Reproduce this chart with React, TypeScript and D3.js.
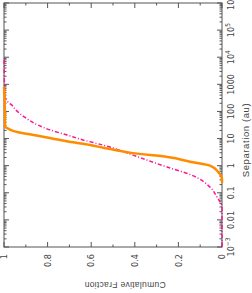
import React from 'react';
import { scaleLinear, scaleLog, line, curveMonotoneY, range } from 'd3';

// observed sample (orange): separation in au vs cumulative fraction
const obsSep = [0.23, 0.3, 0.59, 1.0, 1.36, 2.1, 2.9, 3.8, 4.5, 5.8, 7.6, 10.5, 13.5, 17, 20, 24.5, 27, 300, 800];
const obsFrac = [0, 0, 0.018, 0.055, 0.14, 0.25, 0.41, 0.49, 0.54, 0.605, 0.7, 0.79, 0.865, 0.935, 0.965, 0.986, 0.995, 0.997, 1.0];

// model distribution (magenta dash-dot)
const modelSep = [0.001, 0.03, 0.069, 0.162, 0.45, 0.89, 2.45, 4.5, 5.75, 8.9, 13.5, 20.9, 31.6, 57.5, 112, 174, 224, 339, 9330];
const modelFrac = [0, 0, 0.023, 0.055, 0.14, 0.252, 0.408, 0.5, 0.546, 0.638, 0.711, 0.789, 0.845, 0.9, 0.945, 0.965, 0.982, 0.995, 1.0];

const fracTicks = [0, 0.2, 0.4, 0.6, 0.8, 1];
const fracLabels = ['0', '0.2', '0.4', '0.6', '0.8', '1'];
const sepExp = [-3, -2, -1, 0, 1, 2, 3, 4, 5, 6];
const sepLabels = [['10', '-3'], ['0.01', ''], ['0.1', ''], ['1', ''], ['10', ''], ['100', ''], ['1000', ''], ['10', '4'], ['10', '5'], ['10', '6']];

const App = () => {
    const width = 252, height = 293;
    const left = 4, right = 222, top = 3, bottom = 247;
    const axisCol = '#555';
    const textCol = '#444';
    const font = "'Liberation Sans Narrow', 'DejaVu Sans Condensed', 'Liberation Sans', sans-serif";

    // plot is drawn turned on its side: fraction runs right-to-left, separation bottom-to-top
    const x = scaleLinear().domain([0, 1]).range([right, left]);
    const y = scaleLog().domain([1e-3, 1e6]).range([bottom, top]);

    const path = line<[number, number]>()
        .x(d => x(d[1]))
        .y(d => y(d[0]))
        .curve(curveMonotoneY);

    const obs = obsSep.map((s, i) => [s, obsFrac[i]] as [number, number]);
    const model = modelSep.map((s, i) => [s, modelFrac[i]] as [number, number]);

    const minorSep: number[] = [];
    sepExp.slice(0, -1).forEach(e => range(2, 10).forEach(m => minorSep.push(m * Math.pow(10, e))));
    const minorFrac = [0.1, 0.3, 0.5, 0.7, 0.9];

    return (
        <svg width={width} height={height} style={{ position: 'absolute', left: 0, top: 0 }}>
            <rect x={0} y={0} width={width} height={height} fill="#fff" />
            <rect x={left} y={top} width={right - left} height={bottom - top} fill="none" stroke={axisCol} strokeWidth={1} />
            {sepExp.map(e => (
                <g key={'sM' + e}>
                    <line x1={right} x2={right - 5} y1={y(Math.pow(10, e))} y2={y(Math.pow(10, e))} stroke={axisCol} />
                    <line x1={left} x2={left + 5} y1={y(Math.pow(10, e))} y2={y(Math.pow(10, e))} stroke={axisCol} />
                </g>
            ))}
            {minorSep.map((v, i) => (
                <g key={'sm' + i}>
                    <line x1={right} x2={right - 2.5} y1={y(v)} y2={y(v)} stroke={axisCol} />
                    <line x1={left} x2={left + 2.5} y1={y(v)} y2={y(v)} stroke={axisCol} />
                </g>
            ))}
            {fracTicks.map(f => (
                <g key={'fM' + f}>
                    <line x1={x(f)} x2={x(f)} y1={bottom} y2={bottom - 5} stroke={axisCol} />
                    <line x1={x(f)} x2={x(f)} y1={top} y2={top + 5} stroke={axisCol} />
                </g>
            ))}
            {minorFrac.map(f => (
                <g key={'fm' + f}>
                    <line x1={x(f)} x2={x(f)} y1={bottom} y2={bottom - 2.5} stroke={axisCol} />
                    <line x1={x(f)} x2={x(f)} y1={top} y2={top + 2.5} stroke={axisCol} />
                </g>
            ))}
            {fracTicks.map((f, i) => (
                <text key={'fl' + f} transform={`translate(${x(f)},254) rotate(-90)`} textAnchor="end" dy="0.35em"
                    fontSize={9} fontFamily={font} fill={textCol}>{fracLabels[i]}</text>
            ))}
            {sepExp.map((e, i) => (
                <text key={'sl' + e} transform={`translate(234,${y(Math.pow(10, e))}) rotate(-90)`} textAnchor="middle"
                    fontSize={9} fontFamily={font} fill={textCol}>
                    {sepLabels[i][0]}
                    {sepLabels[i][1] && <tspan fontSize={6.5} dy="-4">{sepLabels[i][1].replace('-', '\u2212')}</tspan>}
                </text>
            ))}
            <text transform="translate(249,140) rotate(-90)" textAnchor="middle" fontSize={9.5} fontFamily="'Liberation Sans', sans-serif"
                fill={textCol} letterSpacing={0.6}>Separation (au)</text>
            <text transform="translate(125,282) rotate(180)" textAnchor="middle" fontSize={8.5} fontFamily="'Liberation Sans', sans-serif"
                fill={textCol} letterSpacing={0.3}>Cumulative Fraction</text>
            <path d={path(model) ?? ''} fill="none" stroke="#ff1493" strokeWidth={1.5} strokeDasharray="4,2,1,2" />
            <path d={path(obs) ?? ''} fill="none" stroke="#ff8c00" strokeWidth={2.5} strokeLinejoin="round" />
        </svg>
    );
};

export default App;
